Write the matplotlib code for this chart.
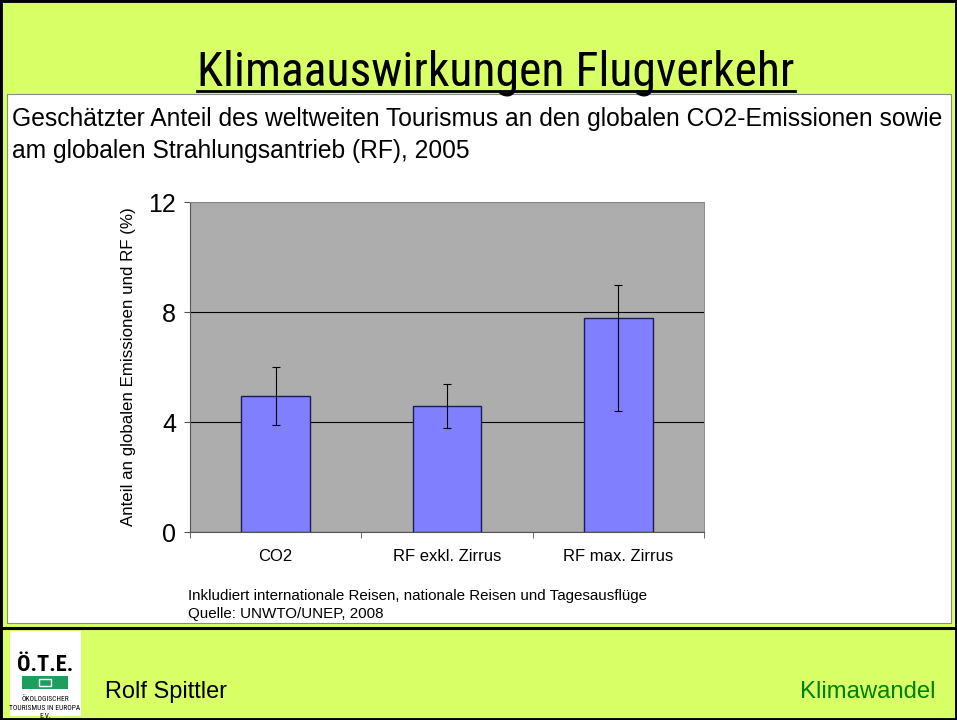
import matplotlib
matplotlib.use("Agg")
import matplotlib.pyplot as plt
from matplotlib import font_manager
from matplotlib.patches import Rectangle
from matplotlib.lines import Line2D

W, H = 957, 720

categories = ["CO2", "RF exkl. Zirrus", "RF max. Zirrus"]
shares = [4.95, 4.6, 7.8]
range_low = [3.9, 3.8, 4.4]
range_high = [6.0, 5.4, 9.0]
y_ticks = [0, 4, 8, 12]

BG = "#D9FF66"
SANS = "Liberation Sans"


def fx(x):
    return x / W


def fy(y):
    return 1 - y / H


def narrow_font():
    names = {f.name for f in font_manager.fontManager.ttflist}
    for n in ("Liberation Sans Narrow", "Arial Narrow", "Roboto Condensed",
              "Open Sans Condensed", "DejaVu Sans Condensed"):
        if n in names:
            return n, "normal"
    return "DejaVu Sans", "condensed"


def fit_width(t, target, renderer):
    bb = t.get_window_extent(renderer)
    t.set_fontsize(t.get_fontsize() * target / bb.width)


def frect(x0, y0, x1, y1, **kw):
    return Rectangle((fx(x0), fy(y1)), (x1 - x0) / W, (y1 - y0) / H,
                     transform=fig.transFigure, **kw)


fig = plt.figure(figsize=(W / 100, H / 100), dpi=100)
fig.patch.set_facecolor(BG)

# slide frame
fig.add_artist(frect(7, 94, 951, 623, facecolor="white", edgecolor="#8a8a8a",
                     lw=0.8, zorder=-2))
fig.add_artist(frect(0, 0, W, H, facecolor="none", edgecolor="black", lw=3.5, zorder=5))
fig.add_artist(Line2D([0, 1], [fy(628), fy(628)], color="black", lw=2.2,
                      transform=fig.transFigure, zorder=5))

# chart
ax = fig.add_axes([fx(190), fy(532), 514 / W, 330 / H])
ax.set_facecolor("#ADADAD")
x = list(range(len(categories)))
yerr = [[s - lo for s, lo in zip(shares, range_low)],
        [hi - s for s, hi in zip(shares, range_high)]]
ax.bar(x, shares, width=0.4, color="#8080FF", edgecolor="#1c1c55", lw=1, zorder=3)
ax.errorbar(x, shares, yerr=yerr, fmt="none", ecolor="black", elinewidth=0.8,
            capsize=3, capthick=0.8, zorder=4)
ax.set_xlim(-0.5, 2.5)
ax.set_ylim(0, 12)
ax.set_yticks(y_ticks)
ax.yaxis.grid(True, color="black", lw=0.8)
ax.set_axisbelow(True)
ax.set_xticks(x, categories)
ax.set_xticks([-0.5, 0.5, 1.5, 2.5], minor=True)
ax.tick_params(axis="x", which="major", length=0, pad=12, labelsize=12)
ax.tick_params(axis="x", which="minor", length=4, direction="out", color="#555555")
ax.tick_params(axis="y", length=4, pad=6, labelsize=18, color="#555555")
for lab in ax.get_xticklabels() + ax.get_yticklabels():
    lab.set_family(SANS)
for side in ("top", "right"):
    ax.spines[side].set_color("#8c8c8c")
    ax.spines[side].set_linewidth(0.7)
for side in ("left", "bottom"):
    ax.spines[side].set_color("#555555")
    ax.spines[side].set_linewidth(0.8)
ax.set_ylabel("Anteil an globalen Emissionen und RF (%)", fontsize=12.2, family=SANS)
ax.yaxis.set_label_coords((128 - 190) / 514, 0.5)
ax.yaxis.label.set_va("center")

# texts
nfam, nstretch = narrow_font()
title = fig.text(fx(496), fy(86), "Klimaauswirkungen Flugverkehr", ha="center",
                 va="baseline", fontsize=30, family=nfam, stretch=nstretch)
sub1 = fig.text(fx(12), fy(126), "Geschätzter Anteil des weltweiten Tourismus an den "
                "globalen CO2-Emissionen sowie", va="baseline", fontsize=16, family=SANS)
sub2 = fig.text(fx(12), fy(158), "am globalen Strahlungsantrieb (RF), 2005",
                va="baseline", fontsize=16, family=SANS)
note1 = fig.text(fx(188), fy(600), "Inkludiert internationale Reisen, nationale Reisen "
                 "und Tagesausflüge", va="baseline", fontsize=10.5, family=SANS)
note2 = fig.text(fx(188), fy(618), "Quelle: UNWTO/UNEP, 2008", va="baseline",
                 fontsize=10.5, family=SANS)
author = fig.text(fx(105), fy(698), "Rolf Spittler", va="baseline", fontsize=15,
                  family=SANS)
topic = fig.text(fx(936), fy(698), "Klimawandel", ha="right", va="baseline",
                 fontsize=15, family=SANS, color="#008000")

# logo
fig.add_artist(frect(10, 631, 81, 716, facecolor="white", edgecolor="none", zorder=1))
logo = fig.text(fx(45), fy(671), "Ö.T.E.", ha="center", va="baseline", fontsize=26,
                family=nfam, stretch=nstretch, weight="bold", zorder=2)
fig.add_artist(frect(22, 676, 68, 689, facecolor="#1E9E5E", edgecolor="none", zorder=2))
fig.add_artist(frect(39, 679, 51, 686, facecolor="none", edgecolor="white", lw=1, zorder=3))
small = []
for txt, yy in (("ÖKOLOGISCHER", 701), ("TOURISMUS IN EUROPA", 710), ("E.V.", 718)):
    small.append(fig.text(fx(45), fy(yy), txt, ha="center", va="baseline", fontsize=5,
                          family=nfam, stretch=nstretch, zorder=2))

fig.canvas.draw()
r = fig.canvas.get_renderer()
fit_width(title, 598, r)
fit_width(sub1, 933, r)
sub2.set_fontsize(sub1.get_fontsize())
fit_width(note1, 463, r)
note2.set_fontsize(note1.get_fontsize())
fit_width(author, 122, r)
fit_width(topic, 136, r)
fit_width(logo, 56, r)
fit_width(small[1], 69, r)
small[0].set_fontsize(small[1].get_fontsize())
small[2].set_fontsize(small[1].get_fontsize())

fig.canvas.draw()
bb = title.get_window_extent(r)
fig.add_artist(Line2D([bb.x0 / W, bb.x1 / W], [fy(91), fy(91)], color="black", lw=2,
                      transform=fig.transFigure))

fig.savefig("out.png", dpi=100)
